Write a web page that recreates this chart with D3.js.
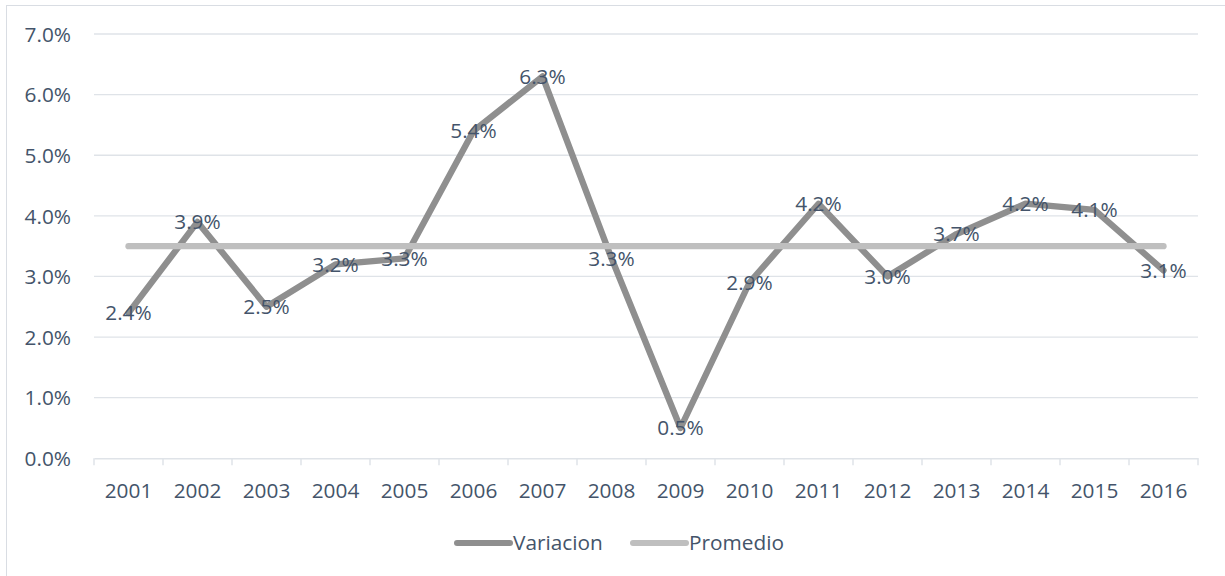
<!DOCTYPE html>
<html><head><meta charset="utf-8">
<script src="https://cdn.jsdelivr.net/npm/d3@7"></script>
<style>body{margin:0;background:#fff}svg{display:block}</style>
</head><body>
<svg id="c" width="1225" height="576"></svg>
<script>
const years = ["2001","2002","2003","2004","2005","2006","2007","2008","2009","2010","2011","2012","2013","2014","2015","2016"];
const variacion = [2.4,3.9,2.5,3.2,3.3,5.4,6.3,3.3,0.5,2.9,4.2,3.0,3.7,4.2,4.1,3.1];
const promedio = [3.5,3.5,3.5,3.5,3.5,3.5,3.5,3.5,3.5,3.5,3.5,3.5,3.5,3.5,3.5,3.5];
const yTicks = [0,1,2,3,4,5,6,7];
const seriesNames = ["Variacion","Promedio"];

const svg = d3.select("#c");
const font = "'Open Sans', sans-serif";
const fs = 20.8;
const txt = "#44546a";
const grid = "#dfe3e8";

svg.append("rect").attr("x",6.5).attr("y",5.5).attr("width",1230).attr("height",600)
  .attr("fill","none").attr("stroke","#d9dde3");

const x = d3.scaleBand().domain(years).range([94,1198]);
const y = d3.scaleLinear().domain([0,7]).range([458.3,34]);

// gridlines
svg.append("g").selectAll("line").data(yTicks.filter(d=>d>0)).join("line")
  .attr("x1",94).attr("x2",1198).attr("y1",d=>y(d)).attr("y2",d=>y(d))
  .attr("stroke",grid).attr("stroke-width",1.3);

// y labels
const yAxis = d3.axisLeft(y).tickValues(yTicks).tickFormat(d=>d.toFixed(1)+"%").tickSize(0).tickPadding(0);
const ga = svg.append("g").attr("transform","translate(71,0)").call(yAxis);
ga.select(".domain").remove();
ga.selectAll("text").attr("font-family",font).attr("font-size",fs).attr("fill",txt).attr("dy","0.35em");

// x axis
const xAxis = d3.axisBottom(x).tickSize(0).tickPadding(0);
const gx = svg.append("g").attr("transform",`translate(0,${y(0)})`).call(xAxis);
gx.select(".domain").attr("stroke",grid).attr("stroke-width",1.5);
gx.selectAll("text").attr("font-family",font).attr("font-size",fs).attr("fill",txt).attr("y",32).attr("dy","0.35em");
// tick marks at band boundaries
const bounds = years.map(d=>x(d)).concat([x(years[years.length-1])+x.bandwidth()]);
gx.append("g").selectAll("line").data(bounds).join("line")
  .attr("x1",d=>d).attr("x2",d=>d).attr("y1",0).attr("y2",7)
  .attr("stroke",grid).attr("stroke-width",1.5);

const cx = d=>x(d)+x.bandwidth()/2;
const line = d3.line().x(d=>cx(d[0])).y(d=>y(d[1]));

svg.append("path").datum(years.map((d,i)=>[d,variacion[i]])).attr("d",line)
  .attr("fill","none").attr("stroke","#8f8f8f").attr("stroke-width",6.3)
  .attr("stroke-linejoin","round").attr("stroke-linecap","round");
svg.append("path").datum(years.map((d,i)=>[d,promedio[i]])).attr("d",line)
  .attr("fill","none").attr("stroke","#bfbfbf").attr("stroke-width",6.3)
  .attr("stroke-linejoin","round").attr("stroke-linecap","round");

// data labels
svg.append("g").selectAll("text").data(years.map((d,i)=>[d,variacion[i]])).join("text")
  .attr("x",d=>cx(d[0])).attr("y",d=>y(d[1])).attr("dy","0.35em")
  .attr("text-anchor","middle").attr("font-family",font).attr("font-size",fs).attr("fill",txt)
  .text(d=>d[1].toFixed(1)+"%");

// legend
const leg = [{name:seriesNames[0],color:"#8f8f8f",x1:457,x2:510,tx:513},{name:seriesNames[1],color:"#bfbfbf",x1:633,x2:686,tx:689}];
const lg = svg.append("g");
leg.forEach(l=>{
  lg.append("line").attr("x1",l.x1).attr("x2",l.x2).attr("y1",543).attr("y2",543)
    .attr("stroke",l.color).attr("stroke-width",6).attr("stroke-linecap","round");
  lg.append("text").attr("x",l.tx).attr("y",543).attr("dy","0.35em")
    .attr("font-family",font).attr("font-size",fs).attr("fill",txt).text(l.name);
});
</script>
</body></html>
